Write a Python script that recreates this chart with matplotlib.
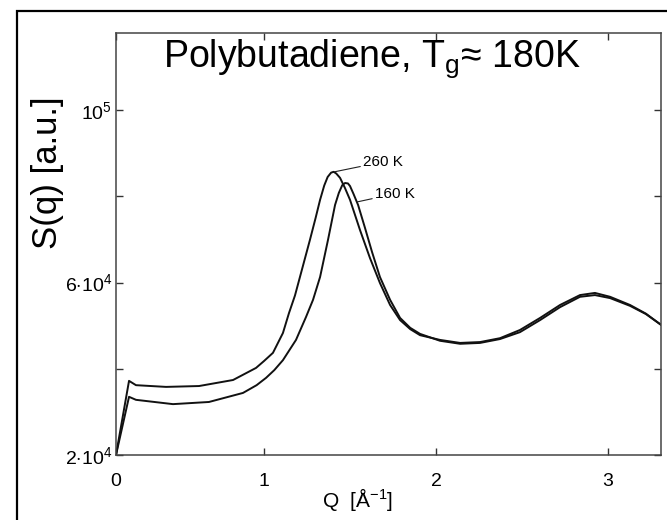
import numpy as np
import matplotlib
matplotlib.use("Agg")
import matplotlib.pyplot as plt
from matplotlib.patches import Rectangle

plt.rcParams['font.family'] = ['Liberation Sans', 'DejaVu Sans']
plt.rcParams['mathtext.fontset'] = 'custom'
plt.rcParams['mathtext.rm'] = 'Liberation Sans'
plt.rcParams['mathtext.it'] = 'Liberation Sans:italic'
plt.rcParams['mathtext.bf'] = 'Liberation Sans:bold'

# ---- data (Q in 1/Angstrom, S in arbitrary units) ----
q_260 = [0.0, 0.088, 0.135, 0.338, 0.561, 0.791, 0.946, 1.000, 1.052, 1.110, 1.145, 1.180,
         1.209, 1.267, 1.300, 1.326, 1.350, 1.370, 1.390, 1.405, 1.420, 1.442, 1.470, 1.500,
         1.558, 1.616, 1.674, 1.733, 1.791, 1.850,
         1.907, 2.023, 2.140, 2.256, 2.372, 2.488, 2.605, 2.721, 2.837, 2.924, 3.012,
         3.128, 3.220, 3.308]
s_260 = [2.00e4, 3.72e4, 3.62e4, 3.58e4, 3.60e4, 3.74e4, 4.02e4, 4.18e4, 4.37e4, 4.83e4, 5.29e4, 5.70e4,
         6.13e4, 6.99e4, 7.50e4, 7.92e4, 8.25e4, 8.45e4, 8.55e4, 8.57e4, 8.53e4, 8.43e4, 8.20e4, 7.92e4,
         7.22e4, 6.57e4, 5.99e4, 5.48e4, 5.13e4, 4.92e4,
         4.78e4, 4.67e4, 4.60e4, 4.62e4, 4.71e4, 4.90e4, 5.18e4, 5.48e4, 5.71e4, 5.76e4, 5.67e4,
         5.48e4, 5.28e4, 5.02e4]

q_160 = [0.0, 0.088, 0.135, 0.385, 0.628, 0.858, 0.950, 1.012, 1.060, 1.110, 1.186, 1.244, 1.285,
         1.326, 1.372, 1.413, 1.435, 1.455, 1.471, 1.488, 1.500, 1.520, 1.547, 1.587, 1.628, 1.674,
         1.733, 1.791, 1.850, 1.907, 2.023, 2.140, 2.256, 2.372, 2.488, 2.605, 2.721, 2.837, 2.924,
         3.012, 3.128, 3.220, 3.308]
s_160 = [2.00e4, 3.35e4, 3.28e4, 3.18e4, 3.23e4, 3.44e4, 3.62e4, 3.79e4, 3.97e4, 4.20e4, 4.67e4, 5.20e4, 5.60e4,
         6.13e4, 6.99e4, 7.80e4, 8.08e4, 8.26e4, 8.31e4, 8.30e4, 8.24e4, 8.06e4, 7.80e4, 7.27e4, 6.71e4, 6.13e4,
         5.60e4, 5.18e4, 4.95e4, 4.81e4, 4.65e4, 4.58e4, 4.60e4, 4.69e4, 4.85e4, 5.13e4, 5.43e4, 5.67e4, 5.71e4,
         5.64e4, 5.46e4, 5.27e4, 5.02e4]

x_ticks = [0, 1, 2, 3]
x_ticklabels = ['0', '1', '2', '3']
y_ticks = [2e4, 4e4, 6e4, 8e4, 1e5]
y_ticklabels = [r'$2{\cdot}10^4$', '', r'$6{\cdot}10^4$', '', r'$10^5$']

# ---- figure ----
fig = plt.figure(figsize=(6.67, 5.2), dpi=100)
ax = fig.add_axes([116/667, 65/520, 545/667, 422/520])

# the scanned axis has a compressed first unit (0..1)
ratio = 148/172
def fwd(x):
    x = np.asarray(x, float)
    return np.where(x < 1, 1 - (1 - x) * ratio, x)
def inv(y):
    y = np.asarray(y, float)
    return np.where(y < 1, 1 - (1 - y) / ratio, y)
ax.set_xscale('function', functions=(fwd, inv))

line_kw = dict(color='#111111', lw=1.4, solid_joinstyle='round')
ax.plot(q_260, s_260, **line_kw)
ax.plot(q_160, s_160, **line_kw)

ax.set_xlim(0, 3.308)
ax.set_ylim(2e4, 1.179e5)

ax.set_xticks(x_ticks)
ax.set_xticklabels(x_ticklabels)
ax.set_yticks(y_ticks)
ax.set_yticklabels(y_ticklabels)
ax.xaxis.set_minor_locator(matplotlib.ticker.NullLocator())
ax.tick_params(direction='in', length=5, width=1.0, color='#333333',
               top=True, right=True, labelsize=14, pad=3)
ax.tick_params(axis='x', pad=13)
for sp in ax.spines.values():
    sp.set_color('#444444')
    sp.set_linewidth(1.1)

ax.set_xlabel(r'Q  [$\mathrm{\AA}^{-1}$]', fontsize=15)
ax.xaxis.set_label_coords((358 - 116) / 545, (455 - 486) / 422)

# curve annotations
ax.annotate('260 K', xy=(1.41, 8.57e4), xytext=(1.576, 8.80e4),
            fontsize=11, va='center', ha='left',
            arrowprops=dict(arrowstyle='-', lw=0.8, color='#222222', shrinkA=0, shrinkB=0))
ax.annotate('160 K', xy=(1.54, 7.87e4), xytext=(1.645, 8.06e4),
            fontsize=11, va='center', ha='left',
            arrowprops=dict(arrowstyle='-', lw=0.8, color='#222222', shrinkA=0, shrinkB=0))

# overlay title and y label
fig.text(163/667, 1 - 67/520, r'Polybutadiene, T$_\mathrm{g}$≈ 180K',
         fontsize=27, ha='left', va='baseline')
fig.text(48/667, 1 - 173/520, 'S(q) [a.u.]', rotation=90, fontsize=25,
         ha='center', va='center')

# outer frame (left and top visible)
fig.add_artist(Rectangle((17/667, -0.05), 1.2, 1 - 11/520 + 0.05,
                         transform=fig.transFigure, fill=False, lw=1.6,
                         edgecolor='black', clip_on=False))

fig.savefig('out.png', dpi=100)
